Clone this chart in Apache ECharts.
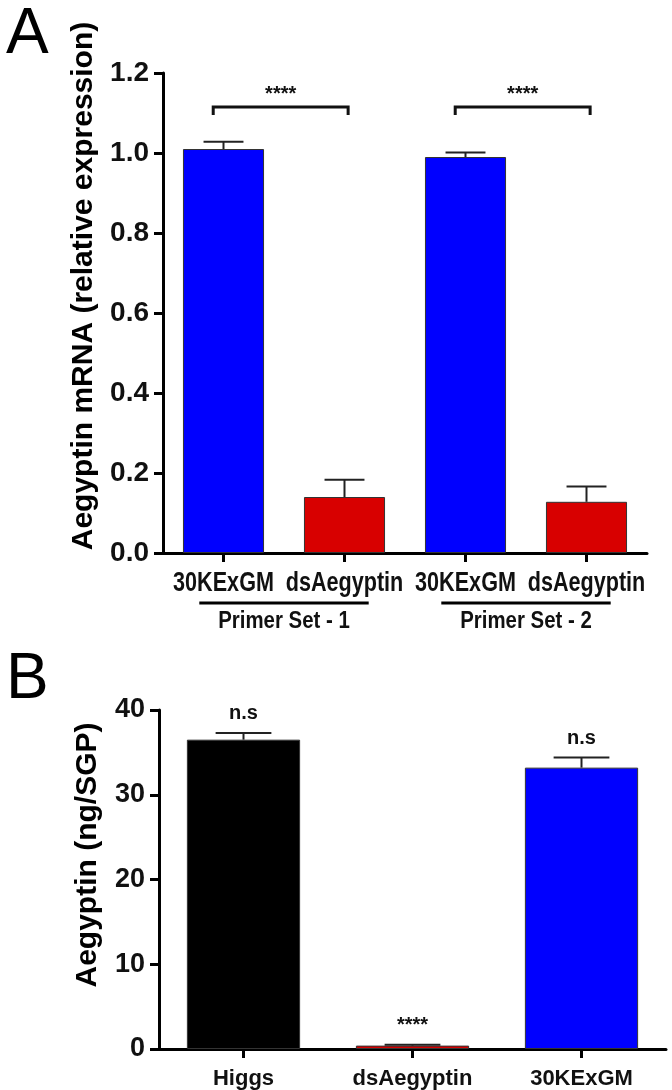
<!DOCTYPE html>
<html><head><meta charset="utf-8">
<script src="https://cdn.jsdelivr.net/npm/echarts@6/dist/echarts.min.js"></script>
<style>html,body{margin:0;padding:0;background:#fff}#c{width:672px;height:1090px}</style>
</head><body><div id="c"></div>
<script>
// ---- Panel A data ----
const catsA = ['30KExGM', 'dsAegyptin', '30KExGM', 'dsAegyptin'];
const valuesA = [1.01, 0.14, 0.99, 0.128];
const errorsA = [0.018, 0.043, 0.011, 0.038];
const colorsA = ['#0000ff', '#d80000', '#0000ff', '#d80000'];
const yTicksA = [0, 0.2, 0.4, 0.6, 0.8, 1.0, 1.2];
const groupsA = [
  { name: 'Primer Set - 1', from: 0, to: 1 },
  { name: 'Primer Set - 2', from: 2, to: 3 }
];
const bracketsA = [
  { from: 0, to: 1, y: 1.115, label: '****' },
  { from: 2, to: 3, y: 1.115, label: '****' }
];
const titleA = 'Aegyptin mRNA (relative expression)';

// ---- Panel B data ----
const catsB = ['Higgs', 'dsAegyptin', '30KExGM'];
const valuesB = [36.5, 0.4, 33.2];
const errorsB = [0.8, 0.1, 1.2];
const colorsB = ['#000000', '#d80000', '#0000ff'];
const sigB = ['n.s', '****', 'n.s'];
const yTicksB = [0, 10, 20, 30, 40];
const titleB = 'Aegyptin (ng/SGP)';

const FF = "'Liberation Sans', Arial, sans-serif";

function errRender(params, api) {
  const i = api.value(0), v = api.value(1), top = api.value(2);
  const p0 = api.coord([i, v]);
  const p1 = api.coord([i, top]);
  const half = api.size([1, 0])[0] * 0.165;
  const st = { stroke: '#222', lineWidth: 2 };
  return { type: 'group', children: [
    { type: 'line', shape: { x1: p0[0], y1: p0[1], x2: p1[0], y2: p1[1] }, style: st },
    { type: 'line', shape: { x1: p1[0] - half, y1: p1[1], x2: p1[0] + half, y2: p1[1] }, style: st }
  ]};
}

function bracketRender(params, api) {
  const a = api.coord([api.value(0), api.value(2)]);
  const b = api.coord([api.value(1), api.value(2)]);
  const w = api.size([1, 0])[0];
  const xl = a[0] - w * 0.085, xr = b[0] + w * 0.03;
  const drop = 8;
  const lbl = bracketsA[params.dataIndex].label;
  return { type: 'group', children: [
    { type: 'polyline', shape: { points: [[xl, a[1] + drop], [xl, a[1]], [xr, a[1]], [xr, a[1] + drop]] },
      style: { stroke: '#111', lineWidth: 3, fill: null } },
    { type: 'text', style: { text: lbl, x: (xl + xr) / 2, y: a[1] - 13, align: 'center', verticalAlign: 'middle',
      font: 'bold 20px ' + FF, fill: '#111' } }
  ]};
}

// condensed category labels of panel A (drawn under each category tick)
function catLabelRender(params, api) {
  const p = api.coord([api.value(0), 0]);
  return { type: 'text', x: p[0], y: p[1] + 31, scaleX: 0.8,
    style: { text: catsA[params.dataIndex], x: 0, y: 0, align: 'center', verticalAlign: 'middle',
      font: 'bold 27px ' + FF, fill: '#111' } };
}

function groupRender(params, api) {
  const a = api.coord([api.value(0), 0]);
  const b = api.coord([api.value(1), 0]);
  const w = api.size([1, 0])[0];
  const mid = (a[0] + b[0]) / 2;
  const half = w * 0.70;
  const g = groupsA[params.dataIndex];
  return { type: 'group', children: [
    { type: 'line', shape: { x1: mid - half, y1: a[1] + 50, x2: mid + half, y2: a[1] + 50 },
      style: { stroke: '#000', lineWidth: 3 } },
    { type: 'text', x: mid, y: a[1] + 68, scaleX: 0.85,
      style: { text: g.name, x: 0, y: 0, align: 'center', verticalAlign: 'middle',
      font: 'bold 24px ' + FF, fill: '#111' } }
  ]};
}

function sigRender(params, api) {
  const i = api.value(0), top = api.value(1);
  const p = api.coord([i, top]);
  return { type: 'text', style: { text: sigB[params.dataIndex], x: p[0], y: p[1] - 19,
    align: 'center', verticalAlign: 'middle', font: 'bold 20px ' + FF, fill: '#111' } };
}

const axisLine = { show: true, lineStyle: { color: '#000', width: 3 } };
const axisTick = { show: true, length: 9, lineStyle: { color: '#000', width: 3 } };

const chart = echarts.init(document.getElementById('c'), null, { renderer: 'canvas' });
chart.setOption({
  animation: false,
  backgroundColor: '#fff',
  grid: [
    { left: 163, top: 73, width: 484, height: 480 },
    { left: 159, top: 710, width: 507, height: 340 }
  ],
  xAxis: [
    { type: 'category', gridIndex: 0, data: catsA, axisLine, axisTick: Object.assign({ alignWithLabel: true }, axisTick),
      axisLabel: { show: false } },
    { type: 'category', gridIndex: 1, data: catsB, axisLine, axisTick: Object.assign({ alignWithLabel: true }, axisTick),
      axisLabel: { color: '#111', fontFamily: FF, fontWeight: 'bold', fontSize: 22, margin: 19, interval: 0 } }
  ],
  yAxis: [
    { type: 'value', gridIndex: 0, min: yTicksA[0], max: yTicksA[yTicksA.length - 1], interval: yTicksA[1] - yTicksA[0],
      axisLine, axisTick, splitLine: { show: false },
      axisLabel: { color: '#111', fontFamily: FF, fontWeight: 'bold', fontSize: 28, margin: 14, formatter: v => v.toFixed(1) } },
    { type: 'value', gridIndex: 1, min: yTicksB[0], max: yTicksB[yTicksB.length - 1], interval: yTicksB[1] - yTicksB[0],
      axisLine, axisTick, splitLine: { show: false },
      axisLabel: { color: '#111', fontFamily: FF, fontWeight: 'bold', fontSize: 27, margin: 14 } }
  ],
  graphic: [
    { type: 'text', left: 6, top: 3, style: { text: 'A', font: '64px ' + FF, fill: '#000' } },
    { type: 'text', left: 6, top: 648, style: { text: 'B', font: '64px ' + FF, fill: '#000' } },
    { type: 'text', x: 84, y: 286, rotation: Math.PI / 2,
      style: { text: titleA, font: 'bold 30px ' + FF, fill: '#000', align: 'center', verticalAlign: 'middle' } },
    { type: 'text', x: 88, y: 855, rotation: Math.PI / 2,
      style: { text: titleB, font: 'bold 30px ' + FF, fill: '#000', align: 'center', verticalAlign: 'middle' } }
  ],
  series: [
    { type: 'bar', xAxisIndex: 0, yAxisIndex: 0, barWidth: '67%',
      data: valuesA.map((v, i) => ({ value: v, itemStyle: { color: colorsA[i] } })),
      itemStyle: { borderColor: '#333', borderWidth: 1 } },
    { type: 'custom', xAxisIndex: 0, yAxisIndex: 0, renderItem: errRender, z: 3,
      data: valuesA.map((v, i) => [i, v, v + errorsA[i]]) },
    { type: 'custom', xAxisIndex: 0, yAxisIndex: 0, renderItem: bracketRender, z: 3,
      data: bracketsA.map(b => [b.from, b.to, b.y]) },
    { type: 'custom', xAxisIndex: 0, yAxisIndex: 0, renderItem: catLabelRender, clip: false, z: 3,
      data: catsA.map((c, i) => [i]) },
    { type: 'custom', xAxisIndex: 0, yAxisIndex: 0, renderItem: groupRender, clip: false, z: 3,
      data: groupsA.map(g => [g.from, g.to]) },
    { type: 'bar', xAxisIndex: 1, yAxisIndex: 1, barWidth: '67%',
      data: valuesB.map((v, i) => ({ value: v, itemStyle: { color: colorsB[i] } })),
      itemStyle: { borderColor: '#333', borderWidth: 1 } },
    { type: 'custom', xAxisIndex: 1, yAxisIndex: 1, renderItem: errRender, z: 3,
      data: valuesB.map((v, i) => [i, v, v + errorsB[i]]) },
    { type: 'custom', xAxisIndex: 1, yAxisIndex: 1, renderItem: sigRender, clip: false, z: 3,
      data: valuesB.map((v, i) => [i, v + errorsB[i]]) }
  ]
});
</script>
</body></html>
